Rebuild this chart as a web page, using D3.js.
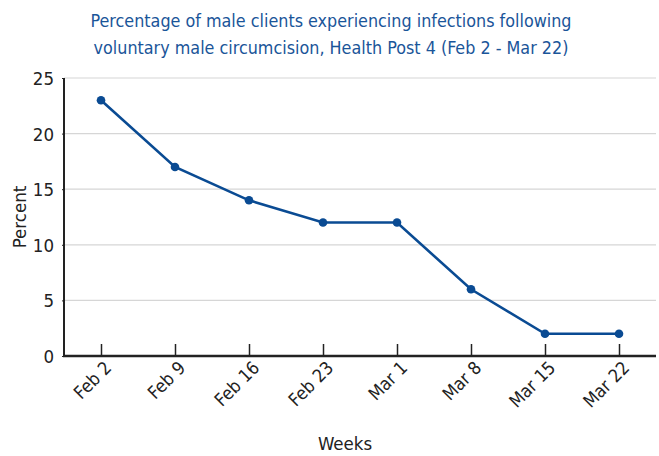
<!DOCTYPE html>
<html>
<head>
<meta charset="utf-8">
<script src="https://cdn.jsdelivr.net/npm/d3@7"></script>
<style>
  body { margin: 0; background: #fff; }
  svg text { font-family: "Liberation Sans Narrow", "DejaVu Sans Condensed", sans-serif; font-stretch: condensed; }
</style>
</head>
<body>
<div id="chart"></div>
<script>
var weeks = ["Feb 2", "Feb 9", "Feb 16", "Feb 23", "Mar 1", "Mar 8", "Mar 15", "Mar 22"];
var percent = [23, 17, 14, 12, 12, 6, 2, 2];
var yTicks = [0, 5, 10, 15, 20, 25];
var titleLines = ["Percentage of male clients experiencing infections following",
                  "voluntary male circumcision, Health Post 4 (Feb 2 - Mar 22)"];

var w = 659, h = 456;
var mLeft = 64, mRight = 656, mTop = 78, mBottom = 356;
var blue = "#0a4b93";

var svg = d3.select("#chart").append("svg")
    .attr("width", w)
    .attr("height", h);

var x = d3.scalePoint().domain(weeks).range([mLeft, mRight]).padding(0.5);
var y = d3.scaleLinear().domain([0, 25]).range([mBottom, mTop]);

// gridlines
svg.append("g")
    .selectAll("line")
    .data(yTicks.filter(d => d > 0))
    .enter().append("line")
    .attr("x1", mLeft).attr("x2", mRight)
    .attr("y1", d => y(d)).attr("y2", d => y(d))
    .attr("stroke", "#d6d6d6")
    .attr("stroke-width", 1.2);

// y axis
var yAxis = svg.append("g")
    .attr("transform", "translate(" + mLeft + ",0)")
    .call(d3.axisLeft(y).tickValues(yTicks).tickSize(2).tickPadding(8));
yAxis.select(".domain").attr("stroke", "#222").attr("stroke-width", 2)
    .attr("d", "M0," + mTop + "V" + (mBottom + 1));
yAxis.selectAll(".tick line").attr("stroke", "#222");
yAxis.selectAll(".tick text").attr("font-size", 18.5).attr("fill", "#222").attr("dy", "0.35em");

// x axis
var xAxis = svg.append("g")
    .attr("transform", "translate(0," + mBottom + ")")
    .call(d3.axisBottom(x).tickSize(-12).tickSizeOuter(0));
xAxis.select(".domain").attr("stroke", "#222").attr("stroke-width", 2.5)
    .attr("d", "M" + (mLeft - 1) + ",0H" + mRight);
xAxis.selectAll(".tick line").attr("stroke", "#222").attr("stroke-width", 1.5);
xAxis.selectAll(".tick text")
    .attr("font-size", 18)
    .attr("fill", "#222")
    .attr("text-anchor", "end")
    .attr("dy", null)
    .attr("y", 0)
    .attr("transform", "translate(11,13) rotate(-45)");

// line
var line = d3.line()
    .x((d, i) => x(weeks[i]))
    .y(d => y(d));

svg.append("path")
    .datum(percent)
    .attr("fill", "none")
    .attr("stroke", blue)
    .attr("stroke-width", 2.6)
    .attr("d", line);

svg.append("g")
    .selectAll("circle")
    .data(percent)
    .enter().append("circle")
    .attr("cx", (d, i) => x(weeks[i]))
    .attr("cy", d => y(d))
    .attr("r", 4.3)
    .attr("fill", blue);

// title
svg.append("g")
    .selectAll("text")
    .data(titleLines)
    .enter().append("text")
    .attr("x", 331)
    .attr("y", (d, i) => 27 + i * 27)
    .attr("text-anchor", "middle")
    .attr("font-size", 17.8)
    .attr("fill", "#1a5599")
    .text(d => d);

// axis titles
svg.append("text")
    .attr("x", 345)
    .attr("y", 450)
    .attr("text-anchor", "middle")
    .attr("font-size", 18.5)
    .attr("fill", "#222")
    .text("Weeks");

svg.append("text")
    .attr("transform", "translate(26,217) rotate(-90)")
    .attr("text-anchor", "middle")
    .attr("font-size", 18.5)
    .attr("fill", "#222")
    .text("Percent");
</script>
</body>
</html>
